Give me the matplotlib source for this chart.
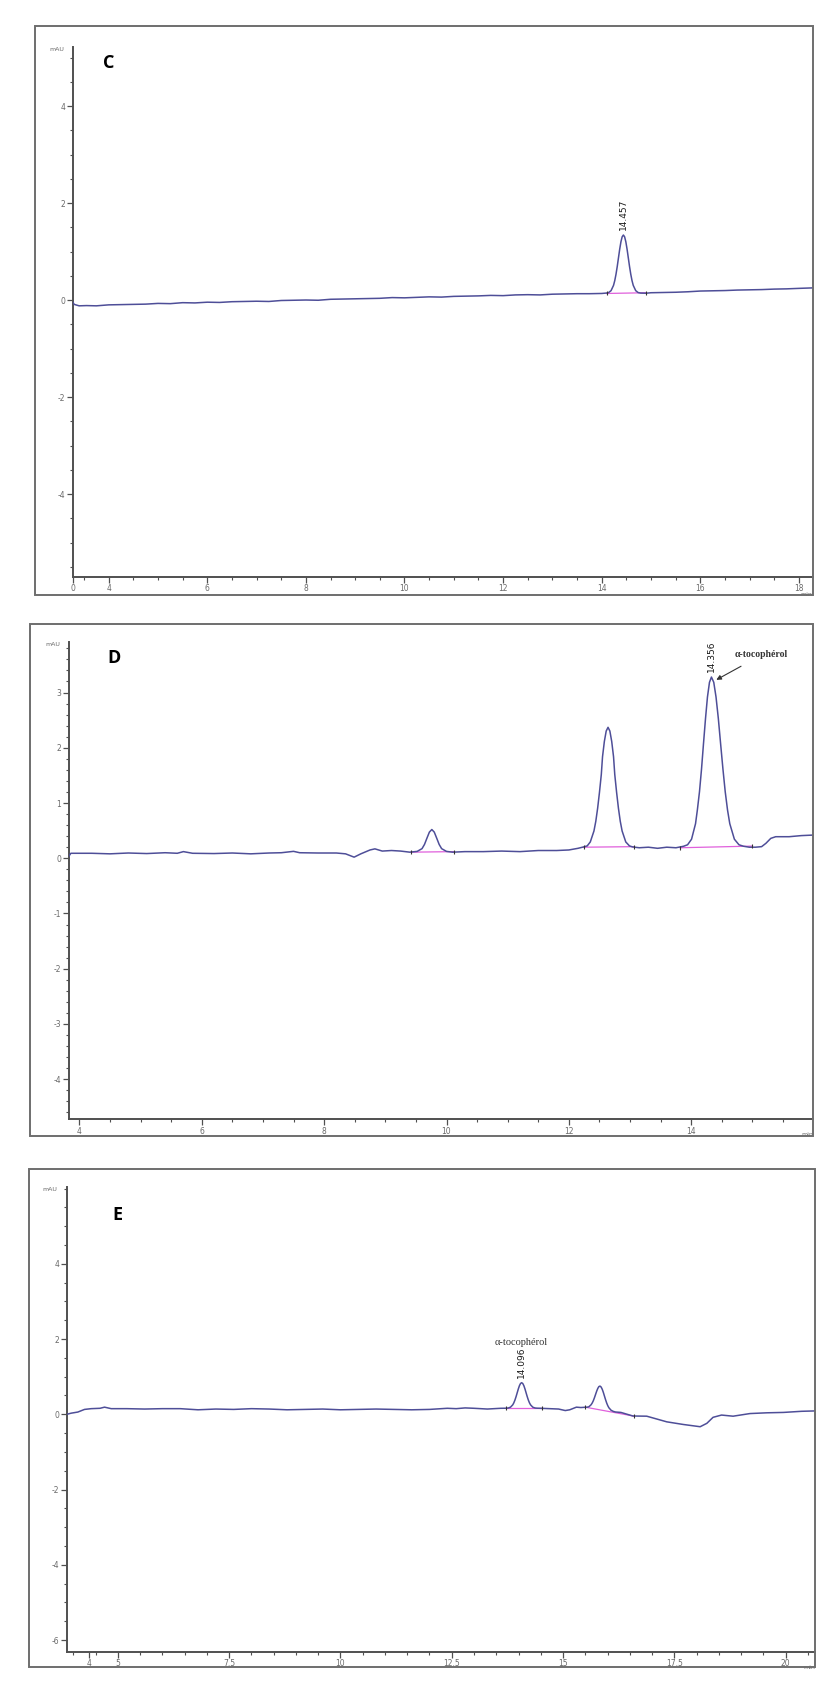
import matplotlib.pyplot as plt
from matplotlib.patches import Rectangle
from matplotlib.ticker import MultipleLocator

# ---- chromatogram C ----
c_time = [3.27, 3.30, 3.40, 3.55, 3.75, 4.0, 4.25, 4.5, 4.75, 5.0, 5.25, 5.5, 5.75, 6.0,
          6.25, 6.5, 6.75, 7.0, 7.25, 7.5, 7.75, 8.0, 8.25, 8.5, 8.75, 9.0, 9.25, 9.5,
          9.75, 10.0, 10.25, 10.5, 10.75, 11.0, 11.25, 11.5, 11.75, 12.0, 12.25, 12.5,
          12.75, 13.0, 13.25, 13.5, 13.75, 14.0,
          14.09, 14.14, 14.19, 14.24, 14.265, 14.29, 14.315, 14.34, 14.365, 14.39, 14.415,
          14.44, 14.465, 14.49, 14.515, 14.54, 14.565, 14.59, 14.615, 14.64, 14.69, 14.74,
          14.79, 14.9, 15.0, 15.25, 15.5, 15.75, 16.0, 16.25, 16.5, 16.75, 17.0, 17.25,
          17.5, 17.75, 18.0, 18.28]
c_mau = [-0.04, -0.09, -0.12, -0.115, -0.12, -0.10, -0.095, -0.09, -0.085, -0.07, -0.075,
         -0.055, -0.06, -0.045, -0.05, -0.035, -0.03, -0.025, -0.03, -0.01, -0.005, 0.0,
         -0.005, 0.015, 0.02, 0.025, 0.03, 0.035, 0.05, 0.045, 0.055, 0.065, 0.06, 0.075,
         0.08, 0.085, 0.095, 0.09, 0.105, 0.11, 0.105, 0.12, 0.125, 0.13, 0.13, 0.135,
         0.143, 0.153, 0.193, 0.302, 0.40, 0.53, 0.689, 0.868, 1.046, 1.199, 1.303,
         1.34, 1.303, 1.199, 1.046, 0.868, 0.689, 0.53, 0.40, 0.302, 0.193, 0.153,
         0.143, 0.14, 0.15, 0.155, 0.16, 0.17, 0.185, 0.19, 0.195, 0.205, 0.21, 0.215,
         0.225, 0.23, 0.24, 0.25]
c_integ = [([14.10, 14.90], [0.135, 0.15])]
c_peak_rt = 14.44
c_peak_label = "14.457"

# ---- chromatogram D ----
d_time = [3.83, 3.86, 4.2, 4.5, 4.8, 5.1, 5.4, 5.6, 5.7, 5.85, 6.2, 6.5, 6.8, 7.1, 7.3,
          7.5, 7.6, 7.9, 8.2, 8.35, 8.49, 8.6, 8.75, 8.83, 8.95, 9.1, 9.25, 9.4,
          9.52, 9.60, 9.64, 9.68, 9.72, 9.76, 9.80, 9.84, 9.88, 9.92, 10.0,
          10.1, 10.3, 10.6, 10.9, 11.2, 11.5, 11.8, 12.0, 12.15,
          12.24, 12.30, 12.35, 12.41, 12.44, 12.47, 12.50, 12.53, 12.55, 12.58, 12.61,
          12.64, 12.67, 12.70, 12.73, 12.75, 12.78, 12.81, 12.84, 12.87, 12.93, 12.99,
          13.04, 13.15, 13.3, 13.45, 13.6, 13.75,
          13.875, 13.94, 14.005, 14.07, 14.10, 14.135, 14.168, 14.20, 14.233, 14.265,
          14.298, 14.33, 14.368, 14.405, 14.443, 14.48, 14.518, 14.555, 14.593, 14.63,
          14.705, 14.78, 14.855, 14.95, 15.05, 15.15, 15.22, 15.3, 15.38, 15.6, 15.8, 16.0]
d_mau = [0.04, 0.09, 0.09, 0.08, 0.095, 0.085, 0.10, 0.09, 0.12, 0.09, 0.085, 0.095, 0.08,
         0.095, 0.10, 0.125, 0.10, 0.095, 0.095, 0.08, 0.02, 0.08, 0.15, 0.17, 0.13, 0.14,
         0.13, 0.11,
         0.124, 0.174, 0.25, 0.363, 0.473, 0.52, 0.473, 0.363, 0.25, 0.174, 0.124,
         0.11, 0.12, 0.12, 0.13, 0.12, 0.14, 0.14, 0.15, 0.18,
         0.205, 0.224, 0.295, 0.494, 0.669, 0.905, 1.193, 1.516, 1.838, 2.115, 2.303,
         2.37, 2.303, 2.115, 1.838, 1.516, 1.193, 0.905, 0.669, 0.494, 0.295, 0.224,
         0.205, 0.19, 0.20, 0.18, 0.20, 0.19,
         0.217, 0.244, 0.345, 0.625, 0.874, 1.207, 1.615, 2.072, 2.527, 2.919,
         3.185, 3.28, 3.185, 2.919, 2.527, 2.072, 1.615, 1.207, 0.874, 0.625,
         0.345, 0.244, 0.217, 0.20, 0.20, 0.21, 0.27, 0.36, 0.39, 0.39, 0.41, 0.42]
d_integ = [([9.42, 10.12], [0.11, 0.12]), ([12.24, 13.07], [0.20, 0.21]),
           ([13.82, 15.00], [0.19, 0.22])]
d_peak_rt = 14.33
d_peak_label = "14.356"

# ---- chromatogram E ----
e_time = [3.85, 3.95, 4.1, 4.25, 4.4, 4.6, 4.7, 4.85, 5.2, 5.6, 6.0, 6.4, 6.8, 7.2, 7.6,
          8.0, 8.4, 8.8, 9.2, 9.6, 10.0, 10.4, 10.8, 11.2, 11.6, 12.0, 12.4, 12.6, 12.8,
          13.0, 13.3, 13.6,
          13.72, 13.77, 13.82, 13.87, 13.895, 13.92, 13.945, 13.97, 13.995, 14.02, 14.045,
          14.07, 14.095, 14.12, 14.145, 14.17, 14.195, 14.22, 14.245, 14.27, 14.32, 14.37,
          14.42, 14.5, 14.7, 14.9, 15.05, 15.15, 15.3, 15.4,
          15.48, 15.53, 15.58, 15.63, 15.655, 15.68, 15.705, 15.73, 15.755, 15.78, 15.805,
          15.83, 15.855, 15.88, 15.905, 15.93, 15.955, 15.98, 16.005, 16.03, 16.08, 16.13,
          16.18, 16.3, 16.57, 16.88, 17.33, 17.7, 18.08, 18.23, 18.37, 18.56, 18.82, 19.2,
          19.58, 19.95, 20.36, 20.66]
e_mau = [0.0, 0.03, 0.06, 0.13, 0.15, 0.16, 0.19, 0.15, 0.15, 0.14, 0.15, 0.15, 0.12,
         0.14, 0.13, 0.15, 0.14, 0.12, 0.13, 0.14, 0.12, 0.13, 0.14, 0.13, 0.12, 0.13,
         0.16, 0.15, 0.17, 0.16, 0.14, 0.16,
         0.162, 0.168, 0.19, 0.252, 0.307, 0.381, 0.471, 0.572, 0.673, 0.76, 0.819,
         0.84, 0.819, 0.76, 0.673, 0.572, 0.471, 0.381, 0.307, 0.252, 0.19, 0.168,
         0.162, 0.16, 0.15, 0.14, 0.10, 0.12, 0.19, 0.18,
         0.186, 0.187, 0.20, 0.254, 0.30, 0.361, 0.439, 0.526, 0.613, 0.687, 0.736,
         0.75, 0.726, 0.667, 0.583, 0.486, 0.389, 0.301, 0.229, 0.174, 0.107, 0.077,
         0.061, 0.05, -0.045, -0.05, -0.20, -0.27, -0.33, -0.24, -0.08, -0.02, -0.05, 0.02,
         0.04, 0.05, 0.08, 0.09]
e_integ = [([13.72, 14.52], [0.16, 0.16]), ([15.50, 16.60], [0.19, -0.05])]
e_peak_rt = 14.07
e_peak_label = "14.096"

compound = "α-tocophérol"

W, H = 838, 1688
fig = plt.figure(figsize=(W / 100, H / 100), dpi=100)

TRACE = '#4e4e98'
INTEG = '#e060dc'
AXC = '#505050'
TICKFONT = ['Liberation Sans Narrow', 'DejaVu Sans']
SERIF = ['Liberation Serif', 'DejaVu Serif']


def px_axes(l, t, r, b):
    return fig.add_axes([l / W, 1 - b / H, (r - l) / W, (b - t) / H])


def frame(l, t, r, b):
    fig.patches.append(Rectangle((l / W, 1 - b / H), (r - l) / W, (b - t) / H,
                                 transform=fig.transFigure, fill=False,
                                 ec='#6e6e6e', lw=1.4))


def style(ax, xlim, ylim, xmaj, xlab, ymaj, ymin_step):
    ax.set_xlim(*xlim)
    ax.set_ylim(*ylim)
    for s in ['top', 'right']:
        ax.spines[s].set_visible(False)
    for s in ['left', 'bottom']:
        ax.spines[s].set_color(AXC)
        ax.spines[s].set_linewidth(1.4)
    ax.set_xticks(xmaj)
    ax.set_xticklabels(xlab)
    ax.xaxis.set_minor_locator(MultipleLocator(0.5))
    ax.set_yticks(ymaj)
    ax.set_yticklabels([str(v) for v in ymaj])
    ax.yaxis.set_minor_locator(MultipleLocator(ymin_step))
    ax.tick_params(which='major', length=4, width=0.9, color=AXC, labelsize=5.5,
                   labelcolor='#6a6a6a', pad=1.5)
    ax.tick_params(which='minor', length=2.2, width=0.8, color=AXC)
    for lab in ax.get_xticklabels() + ax.get_yticklabels():
        lab.set_family(TICKFONT)
    ax.text(-0.012, 1.0, 'mAU', transform=ax.transAxes, ha='right', va='top',
            fontsize=4.5, color='#6a6a6a', family=TICKFONT)
    ax.text(1.0, -0.028, 'min', transform=ax.transAxes, ha='right', va='top',
            fontsize=4.5, color='#6a6a6a', family=TICKFONT)


def draw(ax, t, y, integ):
    ax.plot(t, y, color=TRACE, lw=1.1, zorder=3)
    for xs, ys in integ:
        ax.plot(xs, ys, color=INTEG, lw=0.9, zorder=2)
        ax.plot(xs, ys, ls='none', marker='|', ms=3.5, mew=0.8, color='#333333', zorder=4)


def letter(ax, s, x, y):
    ax.text(x, y, s, transform=ax.transAxes, fontsize=13, fontweight='bold',
            family=['Open Sans', 'DejaVu Sans'], color='black', va='center', ha='left')


# panel C
frame(35, 25.7, 813, 595)
axc = px_axes(72.7, 46.7, 812.7, 576.7)
style(axc, (3.27, 18.28), (-5.705, 5.223),
      [3.27, 4, 6, 8, 10, 12, 14, 16, 18],
      ['0', '4', '6', '8', '10', '12', '14', '16', '18'],
      [-4, -2, 0, 2, 4], 0.5)
draw(axc, c_time, c_mau, c_integ)
axc.text(c_peak_rt, 1.45, c_peak_label, rotation=90, ha='center', va='bottom',
         fontsize=6.5, family=TICKFONT, color='#1a1a1a')
letter(axc, 'C', 0.041, 0.97)

# panel D
frame(30, 624.3, 813.4, 1135.7)
axd = px_axes(69, 641.7, 813, 1119)
style(axd, (3.83, 15.99), (-4.72, 3.92),
      [4, 6, 8, 10, 12, 14], ['4', '6', '8', '10', '12', '14'],
      [-4, -3, -2, -1, 0, 1, 2, 3], 0.2)
draw(axd, d_time, d_mau, d_integ)
axd.text(d_peak_rt, 3.38, d_peak_label, rotation=90, ha='center', va='bottom',
         fontsize=6.5, family=TICKFONT, color='#1a1a1a')
axd.annotate(compound, xy=(14.41, 3.23), xytext=(15.15, 3.68), ha='center', va='center',
             fontsize=7, fontweight='bold', family=SERIF, color='#333333',
             arrowprops=dict(arrowstyle='-|>', color='#333333', lw=0.8,
                             shrinkA=6, shrinkB=0, mutation_scale=7))
letter(axd, 'D', 0.052, 0.965)

# panel E
frame(29.3, 1169, 815, 1666.7)
axe = px_axes(66.7, 1186.7, 815, 1651.7)
style(axe, (3.85, 20.66), (-6.31, 6.05),
      [4.35, 5, 7.5, 10, 12.5, 15, 17.5, 20],
      ['4', '5', '7.5', '10', '12.5', '15', '17.5', '20'],
      [-6, -4, -2, 0, 2, 4], 0.5)
draw(axe, e_time, e_mau, e_integ)
axe.text(e_peak_rt, 0.97, e_peak_label, rotation=90, ha='center', va='bottom',
         fontsize=6.5, family=TICKFONT, color='#1a1a1a')
axe.text(e_peak_rt, 1.9, compound, ha='center', va='center', fontsize=7.5,
         family=SERIF, color='#333333')
letter(axe, 'E', 0.061, 0.94)

fig.savefig('out.png', dpi=100)
